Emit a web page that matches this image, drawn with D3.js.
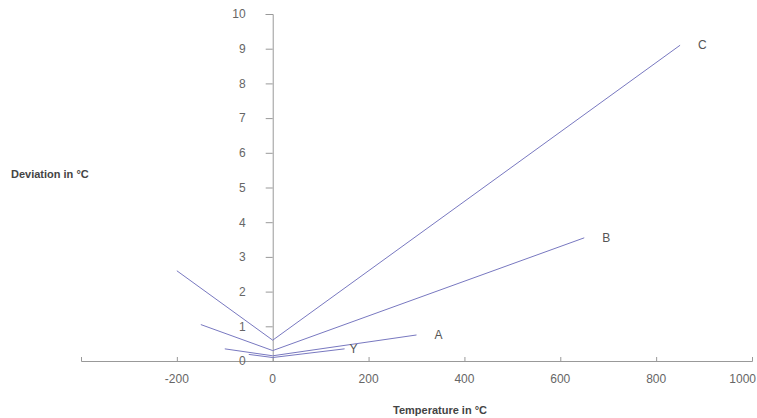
<!DOCTYPE html>
<html>
<head>
<meta charset="utf-8">
<script src="https://cdn.jsdelivr.net/npm/d3@7"></script>
<style>
  body { margin: 0; background: #fff; }
  text { font-family: "Liberation Sans", Arial, sans-serif; }
</style>
</head>
<body>
<div id="chart"></div>
<script>
// tolerance curves
var seriesNames = ["C", "B", "A", "Y"];
var seriesTemps = [
    [-200, 0, 850],
    [-150, 0, 650],
    [-100, 0, 300],
    [-50, 0, 150]
];
var seriesDev = [
    [2.6, 0.6, 9.1],
    [1.05, 0.3, 3.55],
    [0.35, 0.15, 0.75],
    [0.19, 0.1, 0.35]
];
var xTicks = [-200, 0, 200, 400, 600, 800, 1000];
var yTicks = [0, 1, 2, 3, 4, 5, 6, 7, 8, 9, 10];

var width = 757, height = 418;

var x = d3.scaleLinear().domain([-400, 1000]).range([81, 752]);
var y = d3.scaleLinear().domain([0, 10]).range([361, 14]);

var svg = d3.select("#chart").append("svg")
    .attr("width", width)
    .attr("height", height);

// x axis
var xAxis = svg.append("g")
    .attr("transform", "translate(0," + y(0) + ")")
    .call(d3.axisTop(x).tickValues([-400].concat(xTicks)).tickSize(4).tickFormat(""));
xAxis.selectAll("line, path").attr("stroke", "#999");

svg.append("g").selectAll("text")
    .data(xTicks)
    .enter().append("text")
    .attr("x", function(d) { return d === 1000 ? width - 1 : x(d); })
    .attr("y", y(0) + 22)
    .attr("text-anchor", function(d) { return d === 1000 ? "end" : "middle"; })
    .style("font-size", "12px")
    .style("fill", "#666")
    .text(function(d) { return d; });

// y axis sits at 0 °C
var yAxis = svg.append("g")
    .attr("transform", "translate(" + x(0) + ",0)")
    .call(d3.axisLeft(y).tickValues(yTicks).tickSize(7).tickSizeOuter(7).tickPadding(20));
yAxis.selectAll("line, path").attr("stroke", "#999");
yAxis.selectAll("text")
    .style("font-size", "12px")
    .style("font-family", "Liberation Sans, Arial, sans-serif")
    .style("fill", "#666");

// series lines
var line = d3.line()
    .x(function(d) { return x(d[0]); })
    .y(function(d) { return y(d[1]); });

seriesNames.forEach(function(name, i) {
    var pts = d3.zip(seriesTemps[i], seriesDev[i]);
    svg.append("path")
        .datum(pts)
        .attr("d", line)
        .attr("fill", "none")
        .attr("stroke", "#7878c0")
        .attr("stroke-width", 1);
    var last = pts[pts.length - 1];
    svg.append("text")
        .attr("x", x(last[0]) + (name === "Y" ? 5 : 18))
        .attr("y", y(last[1]) + 4)
        .style("font-size", "12px")
        .style("fill", "#555")
        .text(name);
});

// axis titles
svg.append("text")
    .attr("x", 11)
    .attr("y", 178)
    .style("font-size", "11px")
    .style("font-weight", "bold")
    .style("fill", "#444")
    .text("Deviation in °C");

svg.append("text")
    .attr("x", 393)
    .attr("y", 414)
    .style("font-size", "11px")
    .style("font-weight", "bold")
    .style("fill", "#444")
    .text("Temperature in °C");
</script>
</body>
</html>
